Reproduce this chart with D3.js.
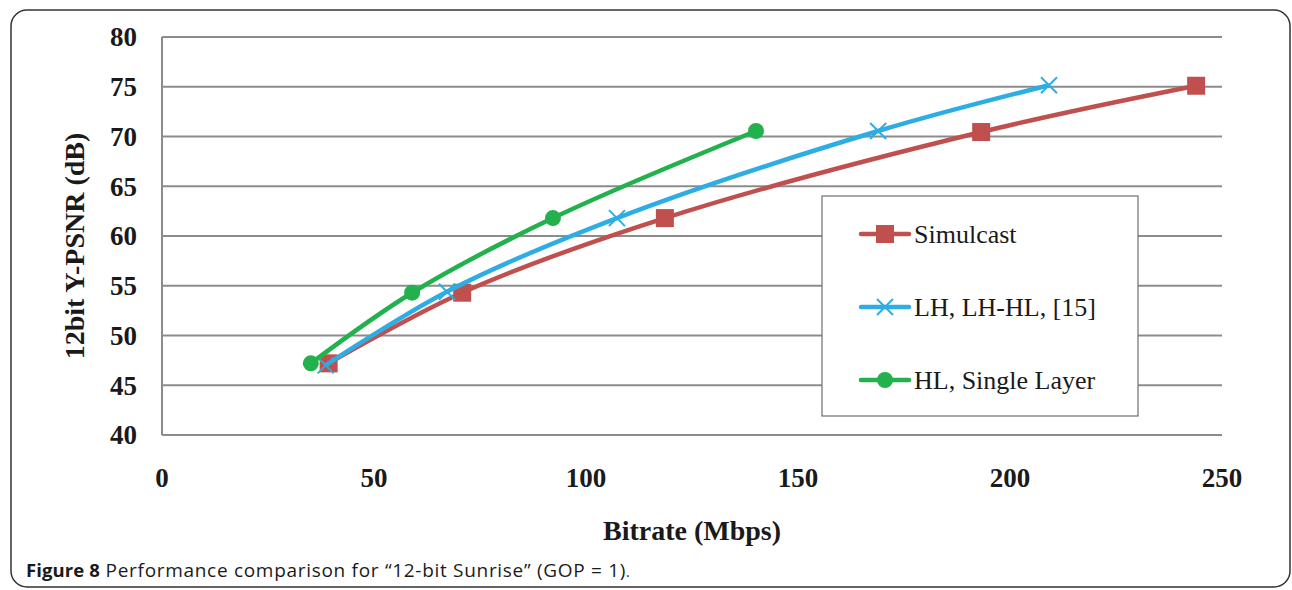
<!DOCTYPE html>
<html>
<head>
<meta charset="utf-8">
<script src="https://cdn.jsdelivr.net/npm/d3@7"></script>
<style>
  html, body { margin: 0; padding: 0; background: #fff; }
  svg { display: block; }
</style>
</head>
<body>
<svg id="chart" width="1292" height="590"></svg>
<script>
const xTicks = [0, 50, 100, 150, 200, 250];
const yTicks = [40, 45, 50, 55, 60, 65, 70, 75, 80];

const simulcastX = [39.3, 70.8, 118.6, 193.2, 243.9];
const simulcastY = [47.2, 54.3, 61.8, 70.45, 75.1];
const lhX = [38.6, 67.2, 107.3, 168.9, 209.2];
const lhY = [47.0, 54.4, 61.8, 70.55, 75.15];
const hlX = [35.1, 59.0, 92.2, 140.1];
const hlY = [47.2, 54.3, 61.8, 70.55];

const series = [
  { name: 'Simulcast', xs: simulcastX, ys: simulcastY, color: '#C0504D', marker: 'square' },
  { name: 'LH, LH-HL, [15]', xs: lhX, ys: lhY, color: '#2EADE4', marker: 'cross' },
  { name: 'HL, Single Layer', xs: hlX, ys: hlY, color: '#22B14C', marker: 'circle' },
];

const svg = d3.select('#chart');

// outer frame
svg.append('rect')
  .attr('x', 11).attr('y', 10)
  .attr('width', 1279).attr('height', 577)
  .attr('rx', 16).attr('ry', 16)
  .attr('fill', 'none')
  .attr('stroke', '#333')
  .attr('stroke-width', 1.5);

const x = d3.scaleLinear().domain([0, 250]).range([162, 1222]);
const y = d3.scaleLinear().domain([40, 80]).range([435, 37]);

// gridlines
svg.append('g')
  .selectAll('line')
  .data(yTicks)
  .enter()
  .append('line')
  .attr('x1', x(0)).attr('x2', x(250))
  .attr('y1', (d) => y(d)).attr('y2', (d) => y(d))
  .attr('stroke', '#8c8c8c')
  .attr('stroke-width', 2);

svg.append('line')
  .attr('x1', x(0)).attr('x2', x(0))
  .attr('y1', y(40)).attr('y2', y(80))
  .attr('stroke', '#8c8c8c')
  .attr('stroke-width', 2);

const tickFont = '"Liberation Serif", "Times New Roman", serif';

// y tick labels
svg.append('g')
  .selectAll('text')
  .data(yTicks)
  .enter()
  .append('text')
  .attr('x', 137)
  .attr('y', (d) => y(d))
  .attr('dy', '0.35em')
  .attr('text-anchor', 'end')
  .attr('font-family', tickFont)
  .attr('font-weight', 'bold')
  .attr('font-size', 27)
  .attr('fill', '#1a1a1a')
  .text((d) => d);

// x tick labels
svg.append('g')
  .selectAll('text')
  .data(xTicks)
  .enter()
  .append('text')
  .attr('x', (d) => x(d))
  .attr('y', 487)
  .attr('text-anchor', 'middle')
  .attr('font-family', tickFont)
  .attr('font-weight', 'bold')
  .attr('font-size', 27)
  .attr('fill', '#1a1a1a')
  .text((d) => d);

// axis titles
svg.append('text')
  .attr('x', 692)
  .attr('y', 540)
  .attr('text-anchor', 'middle')
  .attr('font-family', tickFont)
  .attr('font-weight', 'bold')
  .attr('font-size', 28)
  .attr('fill', '#1a1a1a')
  .text('Bitrate (Mbps)');

svg.append('text')
  .attr('transform', 'translate(84,246) rotate(-90)')
  .attr('text-anchor', 'middle')
  .attr('font-family', tickFont)
  .attr('font-weight', 'bold')
  .attr('font-size', 28)
  .attr('fill', '#1a1a1a')
  .text('12bit Y-PSNR (dB)');

// lines
const line = d3.line()
  .x((d) => x(d[0]))
  .y((d) => y(d[1]))
  .curve(d3.curveCatmullRom.alpha(0.5));

function drawMarker(g, kind, color, cx, cy) {
  if (kind === 'square') {
    g.append('rect')
      .attr('x', cx - 9).attr('y', cy - 9)
      .attr('width', 18).attr('height', 18)
      .attr('fill', color);
  } else if (kind === 'cross') {
    g.append('path')
      .attr('d', `M${cx - 8},${cy - 8}L${cx + 8},${cy + 8}M${cx - 8},${cy + 8}L${cx + 8},${cy - 8}`)
      .attr('stroke', color)
      .attr('stroke-width', 2)
      .attr('fill', 'none');
  } else {
    g.append('circle')
      .attr('cx', cx).attr('cy', cy)
      .attr('r', 8)
      .attr('fill', color);
  }
}

series.forEach((s) => {
  const pts = s.xs.map((v, i) => [v, s.ys[i]]);
  const g = svg.append('g');
  g.append('path')
    .datum(pts)
    .attr('d', line)
    .attr('fill', 'none')
    .attr('stroke', s.color)
    .attr('stroke-width', 4.5);
  pts.forEach((p) => drawMarker(g, s.marker, s.color, x(p[0]), y(p[1])));
});

// legend
const legend = svg.append('g');
legend.append('rect')
  .attr('x', 822).attr('y', 196)
  .attr('width', 316).attr('height', 220)
  .attr('fill', '#fff')
  .attr('stroke', '#6e6e6e')
  .attr('stroke-width', 1.2);

const legendY = [234, 307, 380];
series.forEach((s, i) => {
  const ly = legendY[i];
  legend.append('line')
    .attr('x1', 861).attr('x2', 909)
    .attr('y1', ly).attr('y2', ly)
    .attr('stroke', s.color)
    .attr('stroke-width', 4.5)
    .attr('stroke-linecap', 'round');
  drawMarker(legend, s.marker, s.color, 885, ly);
  legend.append('text')
    .attr('x', 914)
    .attr('y', ly)
    .attr('dy', '0.35em')
    .attr('font-family', tickFont)
    .attr('font-size', 26)
    .attr('fill', '#1a1a1a')
    .text(s.name);
});

// caption
const cap = svg.append('text')
  .attr('x', 26)
  .attr('y', 577)
  .attr('font-family', '"Open Sans", "Noto Sans", sans-serif')
  .attr('fill', '#1a1a1a');
cap.append('tspan')
  .attr('font-weight', 'bold')
  .attr('font-size', 18.5)
  .attr('letter-spacing', 0.1)
  .text('Figure 8');
cap.append('tspan')
  .attr('font-size', 19)
  .attr('letter-spacing', 0.7)
  .text(' Performance comparison for \u201c12-bit Sunrise\u201d (GOP = 1)');
cap.append('tspan').attr('font-size', 14).text('.');
</script>
</body>
</html>
